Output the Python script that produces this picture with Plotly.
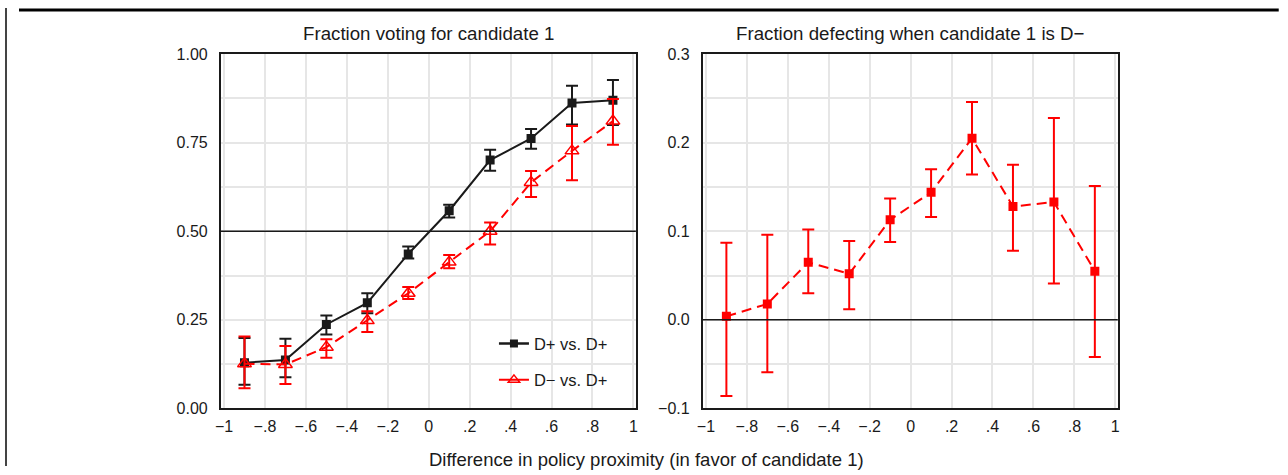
import plotly.graph_objects as go

W, H = 1288, 475

x_bins = [-0.9, -0.7, -0.5, -0.3, -0.1, 0.1, 0.3, 0.5, 0.7, 0.9]

# left panel: fraction voting for candidate 1
dp_dp = [0.129, 0.137, 0.237, 0.298, 0.436, 0.558, 0.701, 0.762, 0.862, 0.870]
dp_dp_lo = [0.067, 0.088, 0.209, 0.269, 0.423, 0.539, 0.671, 0.733, 0.801, 0.800]
dp_dp_hi = [0.199, 0.197, 0.262, 0.325, 0.457, 0.575, 0.730, 0.789, 0.911, 0.927]

dm_dp = [0.126, 0.124, 0.173, 0.248, 0.325, 0.413, 0.500, 0.638, 0.727, 0.811]
dm_dp_lo = [0.057, 0.069, 0.143, 0.216, 0.309, 0.396, 0.463, 0.597, 0.644, 0.744]
dm_dp_hi = [0.203, 0.176, 0.195, 0.274, 0.343, 0.433, 0.525, 0.670, 0.797, 0.873]

# right panel: fraction defecting when candidate 1 is D-
defect = [0.004, 0.018, 0.065, 0.052, 0.113, 0.144, 0.205, 0.128, 0.133, 0.055]
defect_lo = [-0.086, -0.059, 0.030, 0.012, 0.088, 0.116, 0.164, 0.078, 0.041, -0.042]
defect_hi = [0.087, 0.096, 0.102, 0.089, 0.137, 0.170, 0.246, 0.175, 0.228, 0.151]

x_ticks = [-1, -0.8, -0.6, -0.4, -0.2, 0, 0.2, 0.4, 0.6, 0.8, 1]
x_ticktext = ["\u22121", "\u2212.8", "\u2212.6", "\u2212.4", "\u2212.2", "0", ".2", ".4", ".6", ".8", "1"]
left_yticks = [0, 0.25, 0.5, 0.75, 1.0]
left_yticktext = ["0.00", "0.25", "0.50", "0.75", "1.00"]
right_yticks = [-0.1, 0, 0.1, 0.2, 0.3]
right_yticktext = ["\u22120.1", "0.0", "0.1", "0.2", "0.3"]

RED = "#ff0000"
BLACK = "#1a1a1a"
FONT = "Liberation Sans, Arial, sans-serif"
DASH = "10px,6px"


# the snapshot comes out slightly shifted/shrunk, so map wanted pixels to layout pixels
def px(x):
    return (x - 5) / 0.994 / W


def py(y):
    return 1 - (y - 6.8) / 0.966 / H


def err(y, lo, hi, color):
    return dict(type="data", symmetric=False,
                array=[h - v for v, h in zip(y, hi)],
                arrayminus=[v - l for v, l in zip(y, lo)],
                color=color, thickness=2, width=6)


fig = go.Figure()

fig.add_trace(go.Scatter(x=x_bins, y=dp_dp, mode="lines+markers", name="D+ vs. D+",
                         line=dict(color=BLACK, width=2),
                         marker=dict(symbol="square", size=9, color=BLACK),
                         error_y=err(dp_dp, dp_dp_lo, dp_dp_hi, BLACK),
                         showlegend=False, xaxis="x", yaxis="y"))
fig.add_trace(go.Scatter(x=x_bins, y=dm_dp, mode="lines+markers", name="D\u2212 vs. D+",
                         line=dict(color=RED, width=2, dash=DASH),
                         marker=dict(symbol="triangle-up-open", size=12, color=RED,
                                     line=dict(width=1.5, color=RED)),
                         error_y=err(dm_dp, dm_dp_lo, dm_dp_hi, RED),
                         showlegend=False, xaxis="x", yaxis="y"))

# legend-only entries (solid lines in the legend)
fig.add_trace(go.Scatter(x=[None], y=[None], mode="lines+markers", name="D+ vs. D+",
                         line=dict(color=BLACK, width=2.5),
                         marker=dict(symbol="square", size=8, color=BLACK),
                         legendgroup="a", xaxis="x", yaxis="y"))
fig.add_trace(go.Scatter(x=[None], y=[None], mode="lines+markers", name="D\u2212 vs. D+",
                         line=dict(color=RED, width=2),
                         marker=dict(symbol="triangle-up-open", size=10, color=RED,
                                     line=dict(width=1.5, color=RED)),
                         legendgroup="b", xaxis="x", yaxis="y"))

fig.add_trace(go.Scatter(x=x_bins, y=defect, mode="lines+markers", name="Defection",
                         line=dict(color=RED, width=2, dash=DASH),
                         marker=dict(symbol="square", size=9, color=RED),
                         error_y=err(defect, defect_lo, defect_hi, RED),
                         showlegend=False, xaxis="x2", yaxis="y2"))

common_x = dict(range=[-1.015, 1.012], tickvals=x_ticks, ticktext=x_ticktext,
                showgrid=True, gridcolor="#e6e6e6", gridwidth=1.5, zeroline=False,
                showline=True, linecolor=BLACK, linewidth=2, mirror=True,
                ticks="", ticklabelstandoff=2,
                tickfont=dict(size=16, color=BLACK, family=FONT))
common_y = dict(showgrid=True, gridcolor="#e6e6e6", gridwidth=1.5, zeroline=False,
                showline=True, linecolor=BLACK, linewidth=2, mirror=True,
                ticks="", ticklabelstandoff=8,
                tickfont=dict(size=16, color=BLACK, family=FONT))

fig.update_layout(
    width=W, height=H,
    margin=dict(l=0, r=0, t=0, b=0),
    paper_bgcolor="white", plot_bgcolor="white",
    font=dict(family=FONT, color=BLACK, size=16),
    xaxis=dict(domain=[px(220), px(635)], anchor="y", **common_x),
    yaxis=dict(domain=[py(408), py(53)], anchor="x", range=[0, 1],
               tickvals=left_yticks, ticktext=left_yticktext,
               minor=dict(dtick=0.125, showgrid=True, gridcolor="#e6e6e6", gridwidth=1.5),
               **common_y),
    xaxis2=dict(domain=[px(702), px(1117)], anchor="y2", **common_x),
    yaxis2=dict(domain=[py(408), py(53)], anchor="x2", range=[-0.1, 0.3],
                tickvals=right_yticks, ticktext=right_yticktext,
                minor=dict(dtick=0.05, showgrid=True, gridcolor="#e6e6e6", gridwidth=1.5),
                **common_y),
    legend=dict(x=491 / W, y=1 - 330 / H, xanchor="left", yanchor="top",
                bgcolor="rgba(0,0,0,0)", traceorder="grouped", tracegroupgap=12,
                font=dict(size=16.5, color=BLACK, family=FONT), itemwidth=30),
    annotations=[
        dict(text="Fraction voting for candidate 1", x=px(427.5), y=py(32),
             xanchor="center", yanchor="middle",
             xref="paper", yref="paper", showarrow=False, font=dict(size=18.7)),
        dict(text="Fraction defecting when candidate 1 is D\u2212", x=px(909.5), y=py(32),
             xanchor="center", yanchor="middle",
             xref="paper", yref="paper", showarrow=False, font=dict(size=18.7)),
        dict(text="Difference in policy proximity (in favor of candidate 1)",
             x=px(646), y=1 - 468 / H, xanchor="center", yanchor="middle",
             xref="paper", yref="paper", showarrow=False, font=dict(size=18.5)),
    ],
    shapes=[
        dict(type="line", xref="x domain", yref="y", x0=0, x1=1, y0=0.5, y1=0.5,
             line=dict(color=BLACK, width=1.5)),
        dict(type="line", xref="x2 domain", yref="y2", x0=0, x1=1, y0=0, y1=0,
             line=dict(color=BLACK, width=1.5)),
        dict(type="line", xref="paper", yref="paper", x0=px(18), x1=px(1278),
             y0=1 - 2 / H, y1=1 - 2 / H, line=dict(color="black", width=3)),
        dict(type="line", xref="paper", yref="paper", x0=0, x1=0,
             y0=0, y1=1, line=dict(color="#444", width=2)),
    ],
)

fig.write_html("out.html", config={"displayModeBar": False},
               post_script="document.body.style.margin='0px';document.body.style.overflow='hidden';")
